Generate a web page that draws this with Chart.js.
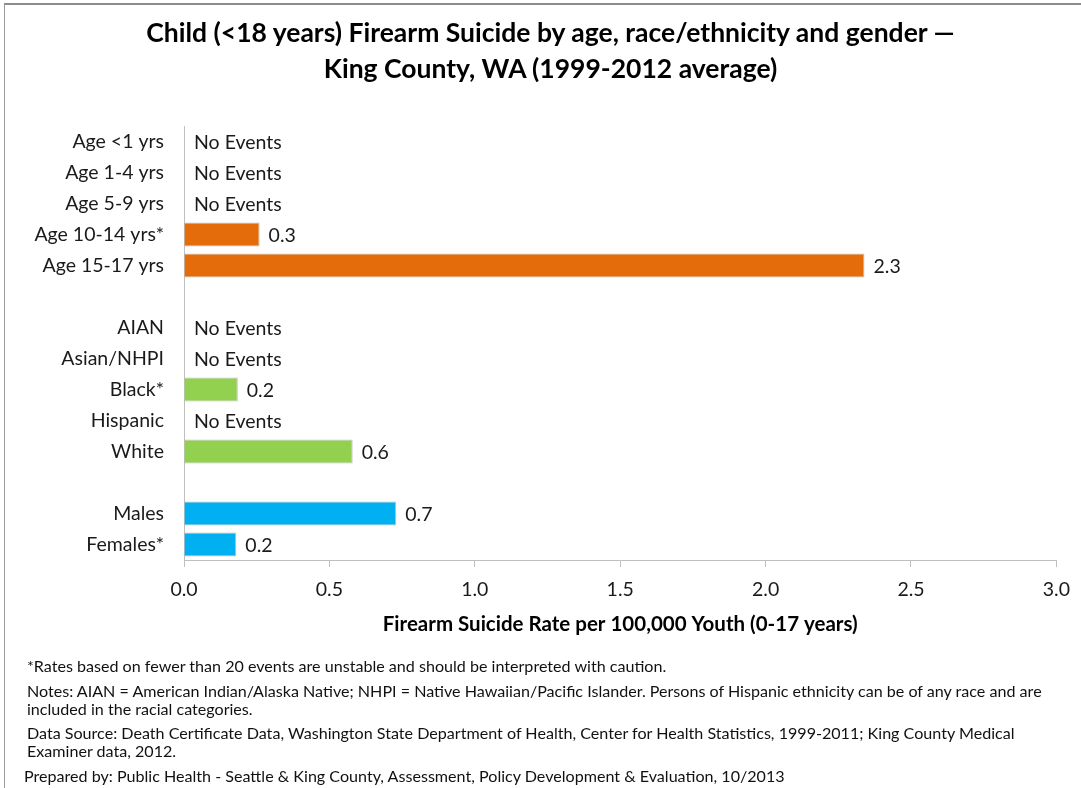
<!DOCTYPE html>
<html>
<head>
<meta charset="utf-8">
<script src="https://cdn.jsdelivr.net/npm/chart.js@4.4.0/dist/chart.umd.min.js"></script>
<style>
  html, body { margin: 0; padding: 0; background: #fff; }
  #wrap { position: relative; width: 1081px; height: 788px; overflow: hidden; }
  #frame { position: absolute; left: 4px; top: 3px; width: 1100px; height: 800px;
    border-top: 2px solid #8c8c8c; border-left: 1px solid #9a9a9a; }
  canvas { position: absolute; left: 0; top: 0; }
  #title { position: absolute; left: 10px; width: 1081px; top: 14px; text-align: center;
    font-family: Lato, sans-serif; font-weight: bold; font-size: 26.5px; line-height: 36px; color: #000; }
  .note { position: absolute; left: 27px; font-family: Lato, sans-serif; font-size: 16.1px;
    color: #111; line-height: 18px; white-space: nowrap; }
</style>
</head>
<body>
<div id="wrap">
  <div id="frame"></div>
  <canvas id="chart" width="1081" height="788"></canvas>
  <div id="title">Child (&lt;18 years) Firearm Suicide by age, race/ethnicity and gender &mdash;<br>King County, WA (1999-2012 average)</div>
  <div class="note" style="top:657px">*Rates based on fewer than 20 events are unstable and should be interpreted with caution.</div>
  <div class="note" style="top:682px">Notes: AIAN = American Indian/Alaska Native; NHPI = Native Hawaiian/Pacific Islander. Persons of Hispanic ethnicity can be of any race and are<br>included in the racial categories.</div>
  <div class="note" style="top:724px">Data Source: Death Certificate Data, Washington State Department of Health, Center for Health Statistics, 1999-2011; King County Medical<br>Examiner data, 2012.</div>
  <div class="note" style="top:767px; left:24px">Prepared by: Public Health - Seattle &amp; King County, Assessment, Policy Development &amp; Evaluation, 10/2013</div>
</div>
<script>
// --- DATI ---
const CATEGORIES = [
  "Age <1 yrs", "Age 1-4 yrs", "Age 5-9 yrs", "Age 10-14 yrs*", "Age 15-17 yrs",
  "",
  "AIAN", "Asian/NHPI", "Black*", "Hispanic", "White",
  "",
  "Males", "Females*",
];
// lunghezza barre; null = nessun evento / riga vuota
const RATES = [null, null, null, 0.26, 2.34, null, null, null, 0.185, null, 0.58, null, 0.73, 0.18];
// etichette mostrate a destra delle barre
const LABELS = ["No Events", "No Events", "No Events", "0.3", "2.3", "", "No Events", "No Events", "0.2", "No Events", "0.6", "", "0.7", "0.2"];
const GROUP = ["age", "age", "age", "age", "age", "", "race", "race", "race", "race", "race", "", "sex", "sex"];
const X_TICKS = [0, 0.5, 1, 1.5, 2, 2.5, 3];

const COLORS = { age: "#E46C0A", race: "#92D050", sex: "#00B0F0", "": "#fff" };
const FONT = "Lato, 'Noto Sans', sans-serif";
const TEXT = "#1a1a1a";

// etichette valore / "No Events"
const valueLabels = {
  id: "valueLabels",
  afterDatasetsDraw(chart) {
    const { ctx, scales } = chart;
    const meta = chart.getDatasetMeta(0);
    ctx.save();
    ctx.font = "19.5px " + FONT;
    ctx.fillStyle = TEXT;
    ctx.textBaseline = "middle";
    ctx.textAlign = "left";
    LABELS.forEach((txt, i) => {
      if (!txt) return;
      const y = scales.y.getPixelForValue(i);
      const x = RATES[i] == null ? scales.x.getPixelForValue(0) + 10 : meta.data[i].x + 9;
      ctx.fillText(txt, x, y + 1);
    });
    ctx.restore();
  },
};

new Chart(document.getElementById("chart"), {
  type: "bar",
  data: {
    labels: CATEGORIES,
    datasets: [
      {
        data: RATES,
        backgroundColor: GROUP.map((g) => COLORS[g]),
        borderColor: "rgba(140,140,140,0.55)",
        borderWidth: 1,
        barPercentage: 0.78,
        categoryPercentage: 1,
      },
    ],
  },
  options: {
    indexAxis: "y",
    responsive: false,
    animation: false,
    layout: { padding: { left: 0, right: 21, top: 126, bottom: 151 } },
    plugins: {
      legend: { display: false },
      tooltip: { enabled: false },
    },
    scales: {
      x: {
        min: 0,
        max: 3,
        afterBuildTicks: (s) => { s.ticks = X_TICKS.map((v) => ({ value: v })); },
        ticks: {
          color: TEXT,
          font: { family: FONT, size: 19.5 },
          padding: 11,
          maxRotation: 0,
          callback: (v) => Number(v).toFixed(1),
        },
        grid: { drawOnChartArea: false, drawTicks: true, tickLength: 7, color: "#bfbfbf" },
        border: { display: true, color: "#bfbfbf" },
        title: {
          display: true,
          text: "Firearm Suicide Rate per 100,000 Youth (0-17 years)",
          color: "#000",
          font: { family: FONT, size: 20.5, weight: "bold" },
          padding: { top: 0, bottom: 0 },
        },
      },
      y: {
        afterFit: (s) => { s.width = 184; },
        ticks: { color: TEXT, font: { family: FONT, size: 19.5 }, padding: 20, autoSkip: false },
        grid: { display: false, drawTicks: false },
        border: { display: true, color: "#bfbfbf" },
      },
    },
  },
  plugins: [valueLabels],
});
</script>
</body>
</html>
